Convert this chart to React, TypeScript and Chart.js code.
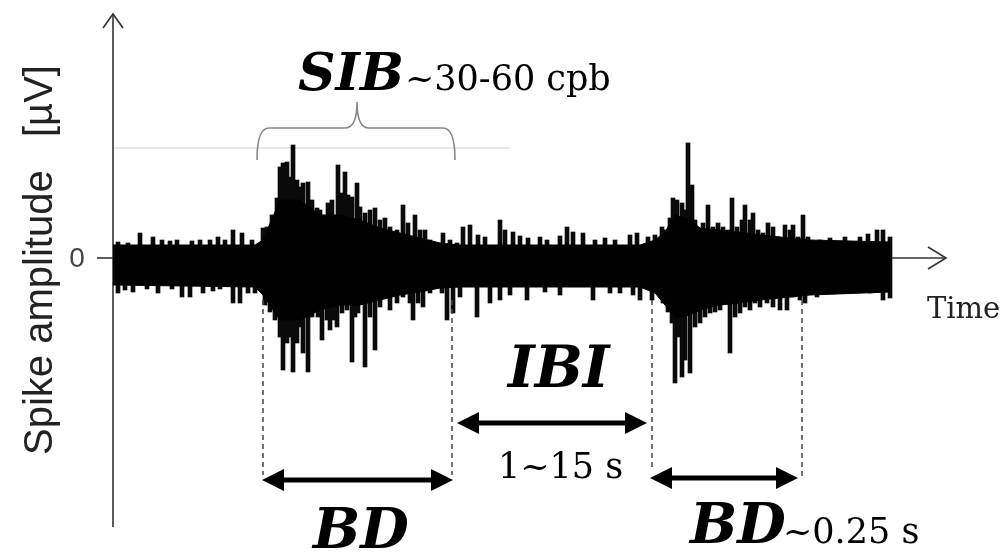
import React, { useEffect, useRef } from 'react';
import { Chart, registerables } from 'chart.js';

Chart.register(...registerables);

// ---- Data (time in arbitrary units from the y-axis, amplitude in µV, schematic) ----
const coreTime = [0, 142, 150, 167, 187, 207, 227, 247, 267, 287, 307, 327, 347, 527, 542, 552, 562, 577, 587, 607, 627, 647, 677, 697, 777];
const coreUpper = [13, 13, 18, 58, 58, 43, 43, 38, 30, 25, 20, 15, 13, 13, 18, 26, 43, 38, 30, 28, 26, 23, 20, 18, 16];
const coreLower = [-27, -29, -37, -62, -62, -52, -47, -47, -42, -37, -34, -30, -29, -29, -35, -47, -60, -57, -52, -47, -45, -42, -39, -37, -34];

const upSpikeTime = [
  5, 15, 27, 40, 49, 57, 64, 79, 87, 97, 105, 112, 120, 129, 139,
  150, 154, 159, 164, 167, 170, 174, 176, 180, 184, 187, 190, 195, 199, 204, 207, 210, 215, 219, 222, 225, 229, 232, 235, 239, 244, 247, 252, 257, 262, 267, 272, 277, 284, 290, 295, 302, 307, 312, 317, 324, 330, 337, 344, 350,
  357, 365, 372, 387, 392, 400, 407, 415, 427, 434, 447, 454, 460, 470, 482, 492, 502, 517, 524, 535, 542,
  549, 553, 557, 560, 564, 569, 572, 575, 579, 582, 585, 590, 595, 600, 605, 610, 615, 619, 624, 629, 632, 637, 640, 645, 650, 655, 660, 665, 672, 677, 680, 685, 690, 695,
  707, 717, 732, 747, 755, 764, 770, 777,
];
const upSpikeValue = [
  16, 15, 25, 21, 18, 17, 18, 17, 18, 18, 21, 18, 28, 25, 18,
  30, 31, 43, 60, 91, 95, 96, 81, 113, 78, 71, 75, 76, 58, 50, 48, 31, 55, 58, 41, 93, 65, 86, 63, 61, 75, 51, 45, 48, 50, 38, 40, 31, 28, 53, 35, 43, 28, 28, 18, 15, 25, 18, 15, 31,
  33, 23, 21, 38, 28, 26, 22, 20, 21, 18, 22, 31, 26, 25, 18, 20, 18, 23, 25, 21, 23,
  31, 28, 40, 60, 58, 55, 48, 115, 73, 38, 28, 35, 53, 31, 35, 31, 28, 60, 31, 38, 53, 38, 45, 28, 25, 35, 31, 21, 33, 28, 33, 21, 43, 21,
  18, 20, 21, 21, 24, 28, 28, 21,
];

const downSpikeTime = [
  5, 12, 20, 34, 45, 59, 69, 77, 90, 100, 107, 120, 127, 135, 142,
  152, 157, 162, 167, 170, 174, 177, 180, 184, 187, 190, 195, 199, 202, 205, 209, 214, 217, 220, 224, 229, 234, 239, 242, 245, 252, 257, 262, 267, 272, 277, 284, 290, 297, 300, 305, 310, 317, 324, 329, 334, 340, 347,
  364, 377, 387, 397, 414, 432, 447, 480, 497, 507, 520, 527, 539,
  550, 555, 559, 562, 565, 569, 572, 577, 582, 587, 592, 597, 602, 607, 612, 617, 622, 627, 632, 637, 642, 647, 654, 660, 667, 674, 680, 687, 692,
  704, 730, 757, 770, 777,
];
const downSpikeValue = [
  -35, -32, -34, -31, -35, -31, -39, -39, -35, -33, -31, -45, -45, -35, -35,
  -47, -54, -62, -79, -112, -85, -79, -114, -85, -69, -95, -114, -59, -49, -59, -82, -62, -72, -62, -69, -55, -52, -104, -59, -55, -109, -59, -92, -49, -39, -52, -45, -39, -45, -62, -45, -49, -35, -29, -35, -62, -55, -39,
  -59, -45, -42, -37, -42, -34, -37, -42, -35, -35, -37, -42, -42,
  -45, -54, -65, -125, -79, -119, -102, -115, -69, -65, -59, -55, -54, -52, -45, -95, -59, -55, -49, -52, -45, -49, -45, -49, -52, -52, -39, -42, -45,
  -39, -35, -35, -42, -40,
];

const yTickLabels = ['0'];
const yTickValues = [0];
const yAxisTitle = 'Spike amplitude   [µV]';
const xAxisTitle = 'Time';

const X_MIN = 0;
const X_MAX = 834;
const Y_MIN = -269;
const Y_MAX = 245;

function doubleArrow(ctx: CanvasRenderingContext2D, x1: number, x2: number, y: number) {
  const head = 22;
  const half = 11;
  const shaft = 5;
  ctx.fillStyle = '#000';
  ctx.fillRect(x1 + head - 2, y - shaft / 2, x2 - x1 - 2 * head + 4, shaft);
  ctx.beginPath();
  ctx.moveTo(x1, y);
  ctx.lineTo(x1 + head, y - half);
  ctx.lineTo(x1 + head, y + half);
  ctx.closePath();
  ctx.fill();
  ctx.beginPath();
  ctx.moveTo(x2, y);
  ctx.lineTo(x2 - head, y - half);
  ctx.lineTo(x2 - head, y + half);
  ctx.closePath();
  ctx.fill();
}

const schematicPlugin = {
  id: 'schematic',
  beforeDatasetsDraw(chart: any) {
    const { ctx, scales } = chart;
    const xs = scales.x;
    const ys = scales.y;
    const px = (t: number) => xs.getPixelForValue(t);
    const py = (v: number) => ys.getPixelForValue(v);
    const x0 = px(0);
    const y0 = py(0);
    ctx.save();
    // light reference line
    ctx.strokeStyle = '#d4d4d4';
    ctx.lineWidth = 1;
    ctx.beginPath();
    ctx.moveTo(x0, py(110));
    ctx.lineTo(px(397), py(110));
    ctx.stroke();

    // axes
    ctx.strokeStyle = '#333';
    ctx.lineWidth = 1.6;
    ctx.beginPath();
    ctx.moveTo(x0, ys.top + 1);
    ctx.lineTo(x0, ys.bottom);
    ctx.stroke();
    ctx.beginPath();
    ctx.moveTo(x0 - 10, ys.top + 15);
    ctx.lineTo(x0, ys.top + 1);
    ctx.lineTo(x0 + 10, ys.top + 15);
    ctx.stroke();

    ctx.beginPath();
    ctx.moveTo(x0, y0);
    ctx.lineTo(xs.right - 1, y0);
    ctx.stroke();
    ctx.beginPath();
    ctx.moveTo(xs.right - 19, y0 - 11);
    ctx.lineTo(xs.right - 1, y0);
    ctx.lineTo(xs.right - 19, y0 + 11);
    ctx.stroke();

    // y ticks
    ctx.fillStyle = '#444';
    ctx.font = '28px "Liberation Sans", Arial, sans-serif';
    ctx.textAlign = 'center';
    ctx.textBaseline = 'middle';
    yTickValues.forEach((v, i) => {
      const yy = py(v);
      ctx.beginPath();
      ctx.moveTo(x0 - 16, yy);
      ctx.lineTo(x0, yy);
      ctx.stroke();
      ctx.fillText(yTickLabels[i], x0 - 36, yy + 1);
    });

    // y title
    ctx.save();
    ctx.translate(52, (ys.top + ys.bottom) / 2 - 10);
    ctx.rotate(-Math.PI / 2);
    ctx.fillStyle = '#222';
    ctx.font = '40px "Liberation Sans", Arial, sans-serif';
    ctx.textAlign = 'center';
    ctx.textBaseline = 'alphabetic';
    ctx.fillText(yAxisTitle, 0, 0);
    ctx.restore();

    // x title
    ctx.fillStyle = '#222';
    ctx.font = '29px "DejaVu Serif", serif';
    ctx.textAlign = 'left';
    ctx.textBaseline = 'alphabetic';
    ctx.fillText(xAxisTitle, px(814), py(-60));
    ctx.restore();
  },
  afterDatasetsDraw(chart: any) {
    const { ctx, scales } = chart;
    const xs = scales.x;
    const ys = scales.y;
    const px = (t: number) => xs.getPixelForValue(t);
    const py = (v: number) => ys.getPixelForValue(v);
    ctx.save();

    // brace
    ctx.strokeStyle = '#888';
    ctx.lineWidth = 1.6;
    const bl = px(144), br = px(342), bm = px(244);
    const yb = py(98), yf = py(130), yt = py(156);
    ctx.beginPath();
    ctx.moveTo(bl, yb);
    ctx.quadraticCurveTo(bl, yf, bl + 12, yf);
    ctx.lineTo(bm - 12, yf);
    ctx.quadraticCurveTo(bm, yf, bm, yt);
    ctx.quadraticCurveTo(bm, yf, bm + 12, yf);
    ctx.lineTo(br - 12, yf);
    ctx.quadraticCurveTo(br, yf, br, yb);
    ctx.stroke();

    // dashed guide lines
    ctx.strokeStyle = '#444';
    ctx.lineWidth = 1.5;
    ctx.setLineDash([5, 4]);
    const guides: [number, number][] = [[150, -217], [339, -217], [539, -212], [689, -219]];
    guides.forEach(([t, vEnd]) => {
      ctx.beginPath();
      ctx.moveTo(px(t), py(-42));
      ctx.lineTo(px(t), py(vEnd));
      ctx.stroke();
    });
    ctx.setLineDash([]);

    // double arrows
    doubleArrow(ctx, px(149), px(340), py(-222));
    doubleArrow(ctx, px(344), px(534), py(-165));
    doubleArrow(ctx, px(537), px(685), py(-220));

    // labels
    ctx.fillStyle = '#000';
    ctx.textAlign = 'left';
    ctx.textBaseline = 'alphabetic';
    const bi = (s: number) => `bold italic ${s}px "DejaVu Serif", serif`;
    const rg = (s: number) => `${s}px "DejaVu Serif", serif`;
    ctx.font = bi(52);
    ctx.fillText('SIB', px(185), py(168));
    ctx.font = rg(35);
    ctx.fillText('~30-60 cpb', px(292), py(168));
    ctx.font = bi(57);
    ctx.fillText('IBI', px(395), py(-129));
    ctx.font = rg(35);
    ctx.fillText('1~15 s', px(385), py(-220));
    ctx.font = bi(56);
    ctx.fillText('BD', px(200), py(-290));
    ctx.fillText('BD', px(577), py(-285));
    ctx.font = rg(35);
    ctx.fillText('~0.25 s', px(670), py(-285));
    ctx.restore();
  },
};

export default function App() {
  const canvasRef = useRef<HTMLCanvasElement | null>(null);

  useEffect(() => {
    const canvas = canvasRef.current;
    if (!canvas) return;
    const chart = new Chart(canvas, {
      type: 'bar',
      data: {
        datasets: [
          {
            type: 'line',
            label: 'core upper',
            data: coreTime.map((t, i) => ({ x: t, y: coreUpper[i] })),
            borderColor: '#000',
            borderWidth: 1,
            pointRadius: 0,
            fill: false,
            tension: 0,
          } as any,
          {
            type: 'line',
            label: 'core lower',
            data: coreTime.map((t, i) => ({ x: t, y: coreLower[i] })),
            borderColor: '#000',
            borderWidth: 1,
            pointRadius: 0,
            fill: '-1',
            backgroundColor: '#000',
            tension: 0,
          } as any,
          {
            type: 'bar',
            label: 'up spikes',
            data: upSpikeTime.map((t, i) => ({ x: t, y: [0, upSpikeValue[i]] })),
            backgroundColor: '#0a0a0a',
            borderWidth: 0,
            barThickness: 4,
            grouped: false,
          } as any,
          {
            type: 'bar',
            label: 'down spikes',
            data: downSpikeTime.map((t, i) => ({ x: t, y: [downSpikeValue[i], 0] })),
            backgroundColor: '#0a0a0a',
            borderWidth: 0,
            barThickness: 4,
            grouped: false,
          } as any,
        ],
      },
      options: {
        responsive: false,
        animation: false,
        devicePixelRatio: 1,
        layout: { padding: { left: 113, right: 60, top: 13, bottom: 27 } },
        plugins: { legend: { display: false }, tooltip: { enabled: false } },
        scales: {
          x: { type: 'linear', min: X_MIN, max: X_MAX, display: false, offset: false },
          y: { type: 'linear', min: Y_MIN, max: Y_MAX, display: false },
        },
      } as any,
      plugins: [schematicPlugin],
    });
    return () => chart.destroy();
  }, []);

  return (
    <div style={{ position: 'fixed', left: 0, top: 0, width: 1007, height: 554, background: '#fff' }}>
      <canvas ref={canvasRef} width={1007} height={554} style={{ width: 1007, height: 554 }} />
    </div>
  );
}
